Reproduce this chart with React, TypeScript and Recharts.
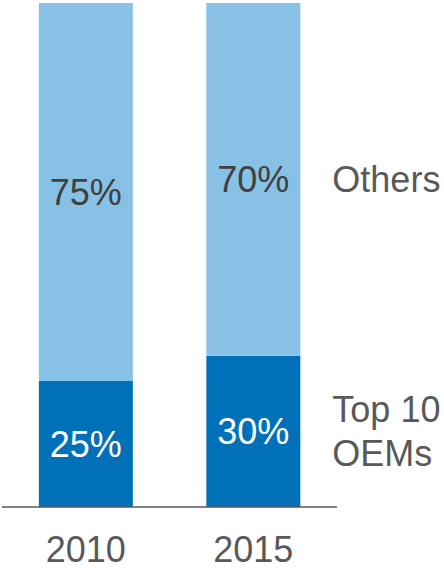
import { Bar, BarChart, LabelList, XAxis, YAxis } from "recharts";

const years = ["2010", "2015"];
const top10 = [25, 30];
const others = [75, 70];
const seriesNames = ["Top 10 OEMs", "Others"];

const data = years.map((year, i) => ({ year, top10: top10[i], others: others[i] }));

const font = "'Liberation Sans', Arial, sans-serif";
const gray = "#595959";

function sideLabel(name: string) {
  return (props: any) => {
    const { x, y, width, height, index } = props;
    if (index !== years.length - 1) return null;
    const lines = name === "Top 10 OEMs" ? ["Top 10", "OEMs"] : [name];
    const cx = Number(x) + Number(width) + 32;
    const cy = Number(y) + Number(height) / 2;
    const lh = 44;
    const start = cy - ((lines.length - 1) * lh) / 2;
    return (
      <g>
        {lines.map((l, k) => (
          <text
            key={k}
            x={cx}
            y={start + k * lh}
            dy="0.36em"
            textAnchor="start"
            fill={gray}
            fontSize={36}
            fontFamily={font}
          >
            {l}
          </text>
        ))}
      </g>
    );
  };
}

export default function App() {
  return (
    <div style={{ position: "absolute", left: 0, top: 0, width: 444, height: 568, background: "#fff" }}>
      <BarChart
        width={444}
        height={568}
        data={data}
        margin={{ top: 3, right: 107, left: 2, bottom: 0 }}
        barCategoryGap="22%"
      >
        <XAxis
          dataKey="year"
          height={61}
          tickLine={false}
          tickSize={0}
          tickMargin={29}
          axisLine={{ stroke: gray, strokeWidth: 1.5 }}
          tick={{ fill: gray, fontSize: 36, fontFamily: font }}
        />
        <YAxis hide domain={[0, 100]} />
        <Bar dataKey="top10" name={seriesNames[0]} stackId="a" fill="#0070B8" isAnimationActive={false}>
          <LabelList
            dataKey="top10"
            position="center"
            formatter={(v: any) => `${v}%`}
            fill="#ffffff"
            fontSize={36}
            fontFamily={font}
          />
          <LabelList dataKey="top10" content={sideLabel(seriesNames[0])} />
        </Bar>
        <Bar dataKey="others" name={seriesNames[1]} stackId="a" fill="#87C1E6" isAnimationActive={false}>
          <LabelList
            dataKey="others"
            position="center"
            formatter={(v: any) => `${v}%`}
            fill="#404040"
            fontSize={36}
            fontFamily={font}
          />
          <LabelList dataKey="others" content={sideLabel(seriesNames[1])} />
        </Bar>
      </BarChart>
    </div>
  );
}
